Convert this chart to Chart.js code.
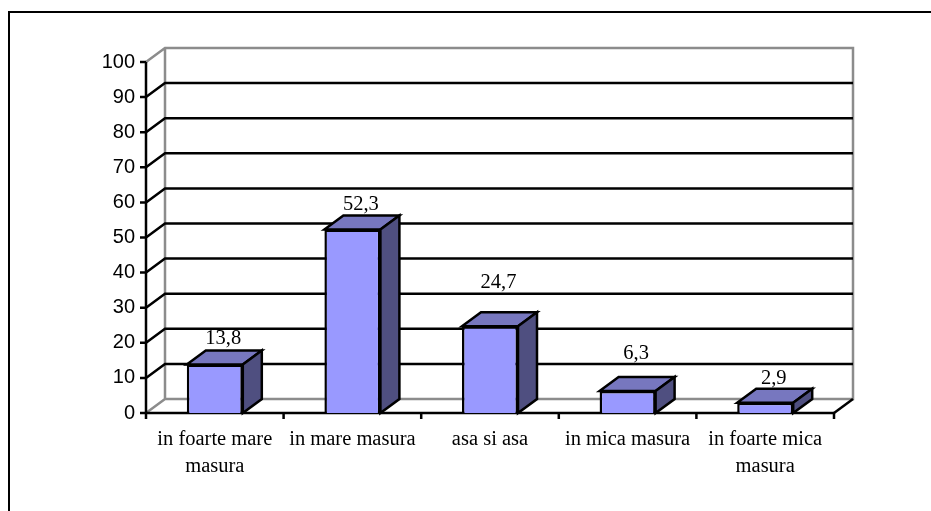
<!DOCTYPE html>
<html>
<head>
<meta charset="utf-8">
<style>
html, body { margin: 0; padding: 0; background: #fff; overflow: hidden; }
#wrap { position: absolute; left: 0; top: 0; width: 931px; height: 511px; }
#frame { position: absolute; left: 8px; top: 11px; width: 930px; height: 510px; border: 2px solid #000; box-sizing: border-box; }
#graph { position: absolute; left: 0; top: 0; }
</style>
<script src="https://cdn.jsdelivr.net/npm/chart.js@4"></script>
</head>
<body>
<div id="wrap">
<div id="frame"></div>
<canvas id="graph" width="931" height="511"></canvas>
</div>
<script>
const categories = [['in foarte mare', 'masura'], 'in mare masura', 'asa si asa', 'in mica masura', ['in foarte mica', 'masura']];
const values = [13.8, 52.3, 24.7, 6.3, 2.9];
const valueLabels = ['13,8', '52,3', '24,7', '6,3', '2,9'];

const depthX = 19;
const depthY = -14;
// the labels do not sit at the same distance above each bar
const labelLift = [7, 5, 24, 18, 5];

// 3D box walls, grid lines and the ticks
const walls = {
    id: 'walls',
    beforeDatasetsDraw(chart) {
        const ctx = chart.ctx;
        const y = chart.scales.y;
        const area = chart.chartArea;
        const top = y.getPixelForValue(100);
        const bottom = y.getPixelForValue(0);
        ctx.save();
        ctx.lineCap = 'butt';
        // grey outline of the back wall
        ctx.strokeStyle = '#8c8c8c';
        ctx.lineWidth = 2.5;
        ctx.beginPath();
        ctx.moveTo(area.left, top);
        ctx.lineTo(area.left + depthX, top + depthY);
        ctx.lineTo(area.right + depthX, top + depthY);
        ctx.lineTo(area.right + depthX, bottom + depthY);
        ctx.lineTo(area.left + depthX, bottom + depthY);
        ctx.lineTo(area.left, bottom);
        ctx.moveTo(area.left + depthX, top + depthY);
        ctx.lineTo(area.left + depthX, bottom + depthY);
        ctx.stroke();
        // black grid on the back wall, with the slanted bit on the side wall
        ctx.strokeStyle = '#000';
        y.ticks.forEach(t => {
            const py = y.getPixelForValue(t.value);
            ctx.beginPath();
            ctx.moveTo(area.left - 6, py);
            ctx.lineTo(area.left, py);
            if (t.value > 0 && t.value < 100) {
                ctx.lineTo(area.left + depthX, py + depthY);
                ctx.lineTo(area.right + depthX, py + depthY);
            }
            ctx.stroke();
        });
        // floor edge on the right
        ctx.beginPath();
        ctx.moveTo(area.right, bottom);
        ctx.lineTo(area.right + depthX, bottom + depthY);
        ctx.stroke();
        // axes
        ctx.beginPath();
        ctx.moveTo(area.left, top);
        ctx.lineTo(area.left, bottom + 6);
        ctx.moveTo(area.left, bottom);
        ctx.lineTo(area.right, bottom);
        const step = (area.right - area.left) / values.length;
        for (let i = 1; i <= values.length; i++) {
            ctx.moveTo(area.left + step * i, bottom);
            ctx.lineTo(area.left + step * i, bottom + 6);
        }
        ctx.stroke();
        ctx.restore();
    },
    afterDatasetsDraw(chart) {
        const ctx = chart.ctx;
        const bars = chart.getDatasetMeta(0).data;
        ctx.save();
        ctx.strokeStyle = '#000';
        ctx.lineWidth = 2.5;
        ctx.lineJoin = 'miter';
        bars.forEach((bar, i) => {
            const l = bar.x - bar.width / 2;
            const r = bar.x + bar.width / 2;
            const t = bar.y;
            const b = bar.base;
            // top face
            ctx.fillStyle = '#7777bf';
            ctx.beginPath();
            ctx.moveTo(l, t);
            ctx.lineTo(l + depthX, t + depthY);
            ctx.lineTo(r + depthX, t + depthY);
            ctx.lineTo(r, t);
            ctx.closePath();
            ctx.fill();
            ctx.stroke();
            // side face
            ctx.fillStyle = '#4f4f80';
            ctx.beginPath();
            ctx.moveTo(r, t);
            ctx.lineTo(r + depthX, t + depthY);
            ctx.lineTo(r + depthX, b + depthY);
            ctx.lineTo(r, b);
            ctx.closePath();
            ctx.fill();
            ctx.stroke();
            // value label
            ctx.fillStyle = '#000';
            ctx.font = '20.5px "Liberation Serif"';
            ctx.textAlign = 'center';
            ctx.textBaseline = 'alphabetic';
            ctx.fillText(valueLabels[i], bar.x + 8.5, t + depthY - labelLift[i]);
        });
        ctx.restore();
    }
};

new Chart(document.querySelector('#graph').getContext('2d'), {
    type: 'bar',
    data: {
        labels: categories,
        datasets: [{
            data: values,
            backgroundColor: '#9999ff',
            borderColor: '#000',
            borderWidth: 2.5,
            barPercentage: 0.407,
            categoryPercentage: 1
        }]
    },
    options: {
        responsive: false,
        animation: false,
        layout: { padding: { left: 0, top: 62, right: 97, bottom: 0 } },
        plugins: { legend: { display: false }, tooltip: { enabled: false } },
        scales: {
            x: {
                grid: { display: false },
                border: { display: false },
                ticks: {
                    color: '#000',
                    maxRotation: 0,
                    autoSkip: false,
                    padding: 5,
                    font: { family: '"Liberation Serif"', size: 20.5, lineHeight: 1.32 }
                },
                afterFit(scale) { scale.height = 98; }
            },
            y: {
                min: 0,
                max: 100,
                grid: { display: false },
                border: { display: false },
                ticks: {
                    stepSize: 10,
                    color: '#000',
                    padding: 3,
                    font: { family: '"Liberation Sans"', size: 20 }
                },
                afterFit(scale) { scale.width = 146; }
            }
        }
    },
    plugins: [walls]
});
</script>
</body>
</html>
